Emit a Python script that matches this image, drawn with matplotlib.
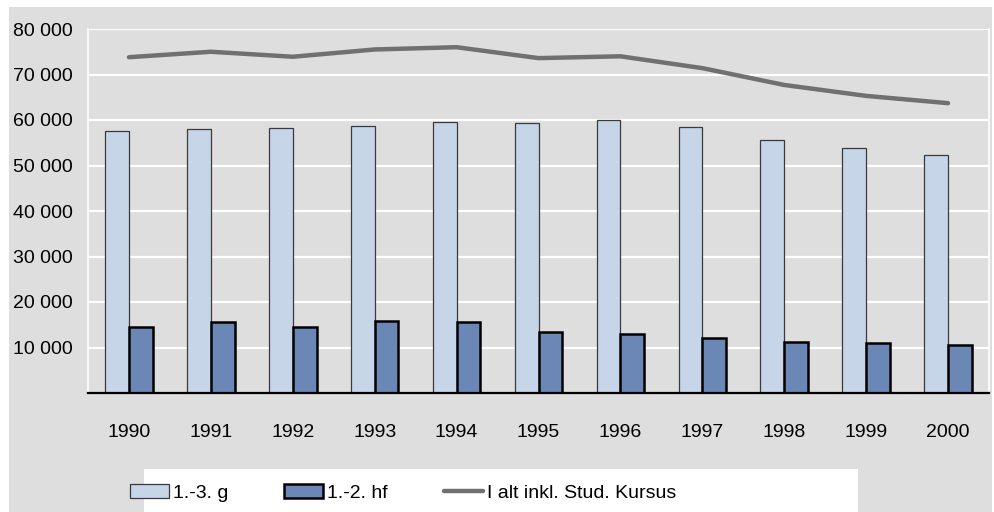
import matplotlib
matplotlib.use("Agg")
import matplotlib.pyplot as plt
from matplotlib.patches import Rectangle, Patch
from matplotlib.lines import Line2D
from matplotlib.ticker import FuncFormatter
import numpy as np

plt.rcParams['font.family'] = ['Liberation Sans', 'DejaVu Sans']

years = ["1990", "1991", "1992", "1993", "1994", "1995",
         "1996", "1997", "1998", "1999", "2000"]
g_values = [57500, 58000, 58200, 58700, 59500, 59300,
            60100, 58500, 55600, 53800, 52300]
hf_values = [14500, 15600, 14500, 15800, 15600, 13400,
             13000, 12100, 11200, 10900, 10600]
total_values = [73800, 75000, 73900, 75500, 76000, 73600,
                74000, 71400, 67700, 65300, 63700]

labels = ["1.-3. g", "1.-2. hf", "I alt inkl. Stud. Kursus"]

bg = "#DEDEDE"
light = "#C6D5E8"
dark = "#6B87B5"
line_col = "#707070"

fig = plt.figure(figsize=(9.95, 5.12), dpi=100, facecolor="white")
# grey panel and white legend box
fig.patches.append(Rectangle((9 / 995, 0), 983 / 995, 505 / 512,
                             transform=fig.transFigure, facecolor=bg,
                             edgecolor="none", zorder=-10))
fig.patches.append(Rectangle((144 / 995, 0), 714 / 995, 43 / 512,
                             transform=fig.transFigure, facecolor="white",
                             edgecolor="none", zorder=-9))

ax = fig.add_axes([88 / 995, 1 - 393 / 512, 901 / 995, 364 / 512])
ax.set_facecolor(bg)

x = np.arange(len(years))
w = 0.29
ax.bar(x - w / 2, g_values, width=w, color=light, edgecolor="#3a3a3a",
       linewidth=0.9, zorder=3)
ax.bar(x + w / 2, hf_values, width=w, color=dark, edgecolor="black",
       linewidth=1.8, zorder=3)
ax.plot(x, total_values, color=line_col, linewidth=3.2,
        solid_capstyle="round", zorder=4)

ax.set_xlim(-0.5, len(years) - 0.5)
ax.set_ylim(0, 80000)
ax.set_yticks(np.arange(10000, 80001, 10000))
ax.yaxis.set_major_formatter(FuncFormatter(lambda v, p: f"{int(v):,}".replace(",", " ")))
ax.set_xticks(x)
ax.set_xticklabels(years)
ax.tick_params(axis="both", length=0, labelsize=14, colors="black")
ax.tick_params(axis="x", pad=22)
ax.tick_params(axis="y", pad=11)

ax.grid(axis="y", color="white", linewidth=1.6, zorder=0)
ax.set_axisbelow(True)
ax.spines["top"].set_visible(False)
ax.spines["left"].set_color("white")
ax.spines["left"].set_linewidth(1.2)
ax.spines["right"].set_color("white")
ax.spines["right"].set_linewidth(1.2)
ax.spines["bottom"].set_color("black")
ax.spines["bottom"].set_linewidth(1.6)
ax.spines["bottom"].set_zorder(5)

handles = [
    Patch(facecolor=light, edgecolor="#3a3a3a", linewidth=0.9),
    Patch(facecolor=dark, edgecolor="black", linewidth=1.8),
    Line2D([0], [0], color=line_col, linewidth=3.2, solid_capstyle="round"),
]
fig.legend(handles, labels, loc="center", bbox_to_anchor=(403 / 995, 19 / 512),
           ncol=3, frameon=False, fontsize=14, handlelength=2.0,
           handleheight=0.75, handletextpad=0.2, columnspacing=2.9)

fig.savefig("out.png", dpi=100, facecolor="white")
